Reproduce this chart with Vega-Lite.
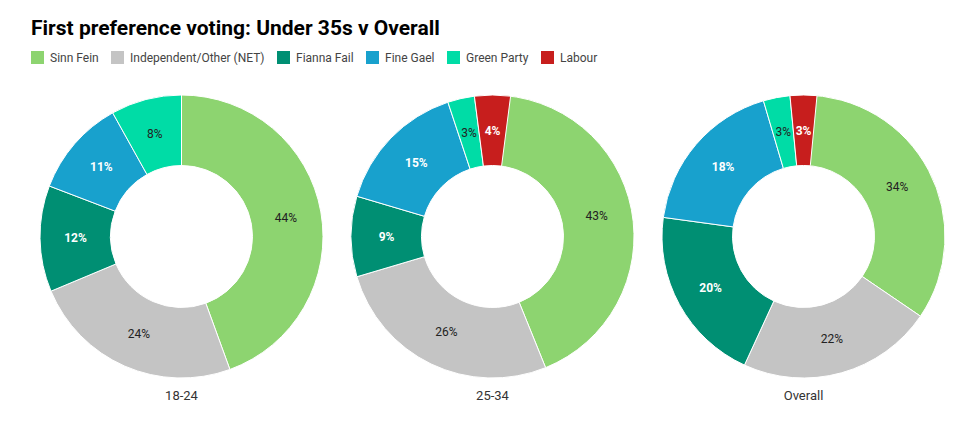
{
  "$schema": "https://vega.github.io/schema/vega-lite/v6.json",
  "background": "white",
  "padding": {"left": 31, "top": 18, "right": 10, "bottom": 5},
  "title": {
    "text": "First preference voting: Under 35s v Overall",
    "anchor": "start",
    "font": "Roboto",
    "fontSize": 21,
    "fontWeight": "bold",
    "color": "#000000",
    "dx": 0,
    "offset": 12
  },
  "data": {
    "values": [
      {"group": "18-24", "party": "Sinn Fein", "o": 1, "v": 44},
      {"group": "18-24", "party": "Independent/Other (NET)", "o": 2, "v": 24},
      {"group": "18-24", "party": "Fianna Fail", "o": 3, "v": 12},
      {"group": "18-24", "party": "Fine Gael", "o": 4, "v": 11},
      {"group": "18-24", "party": "Green Party", "o": 5, "v": 8},
      {"group": "18-24", "party": "Labour", "o": 6, "v": 0},
      {"group": "25-34", "party": "Sinn Fein", "o": 1, "v": 43},
      {"group": "25-34", "party": "Independent/Other (NET)", "o": 2, "v": 26},
      {"group": "25-34", "party": "Fianna Fail", "o": 3, "v": 9},
      {"group": "25-34", "party": "Fine Gael", "o": 4, "v": 15},
      {"group": "25-34", "party": "Green Party", "o": 5, "v": 3},
      {"group": "25-34", "party": "Labour", "o": 6, "v": 4},
      {"group": "Overall", "party": "Sinn Fein", "o": 1, "v": 34},
      {"group": "Overall", "party": "Independent/Other (NET)", "o": 2, "v": 22},
      {"group": "Overall", "party": "Fianna Fail", "o": 3, "v": 20},
      {"group": "Overall", "party": "Fine Gael", "o": 4, "v": 18},
      {"group": "Overall", "party": "Green Party", "o": 5, "v": 3},
      {"group": "Overall", "party": "Labour", "o": 6, "v": 3}
    ]
  },
  "transform": [
    {"stack": "v", "groupby": ["group"], "sort": [{"field": "o", "order": "ascending"}], "as": ["v0", "v1"]},
    {"calculate": "(datum.v0 + datum.v1) / 2", "as": "vmid"},
    {"calculate": "datum.v + '%'", "as": "label"}
  ],
  "facet": {
    "column": {
      "field": "group",
      "type": "nominal",
      "title": null,
      "header": {
        "labelOrient": "bottom",
        "labelFont": "Roboto",
        "labelFontSize": 13,
        "labelColor": "#333333",
        "labelPadding": 10
      }
    }
  },
  "spacing": 24,
  "spec": {
    "width": 283,
    "height": 283,
    "layer": [
      {
        "mark": {"type": "arc", "innerRadius": 71, "outerRadius": 141.5, "stroke": "white", "strokeWidth": 1},
        "encoding": {
          "theta": {"field": "v0", "type": "quantitative"},
          "theta2": {"field": "v1"},
          "color": {
            "field": "party",
            "type": "nominal",
            "scale": {
              "domain": ["Sinn Fein", "Independent/Other (NET)", "Fianna Fail", "Fine Gael", "Green Party", "Labour"],
              "range": ["#8dd470", "#c4c4c4", "#008f73", "#18a1cd", "#00dca6", "#c71e1d"]
            },
            "legend": {
              "title": null,
              "orient": "none",
              "direction": "horizontal",
              "legendX": -9,
              "legendY": -44,
              "symbolType": "square",
              "symbolSize": 169,
              "symbolStrokeWidth": 0,
              "labelFont": "Roboto",
              "labelFontSize": 12,
              "labelColor": "#444444",
              "labelOffset": 6,
              "columnPadding": 12
            }
          }
        }
      },
      {
        "transform": [{"filter": "datum.v > 0 && (datum.party == 'Sinn Fein' || datum.party == 'Independent/Other (NET)' || datum.party == 'Green Party')"}],
        "mark": {"type": "text", "radius": 106, "font": "Roboto", "fontSize": 12, "color": "#222222"},
        "encoding": {
          "theta": {"field": "vmid", "type": "quantitative"},
          "text": {"field": "label"}
        }
      },
      {
        "transform": [{"filter": "datum.v > 0 && (datum.party == 'Fianna Fail' || datum.party == 'Fine Gael' || datum.party == 'Labour')"}],
        "mark": {"type": "text", "radius": 106, "font": "Roboto", "fontSize": 12, "fontWeight": "bold", "color": "#ffffff"},
        "encoding": {
          "theta": {"field": "vmid", "type": "quantitative"},
          "text": {"field": "label"}
        }
      }
    ]
  },
  "resolve": {"scale": {"theta": "independent"}},
  "config": {"view": {"stroke": null}}
}
